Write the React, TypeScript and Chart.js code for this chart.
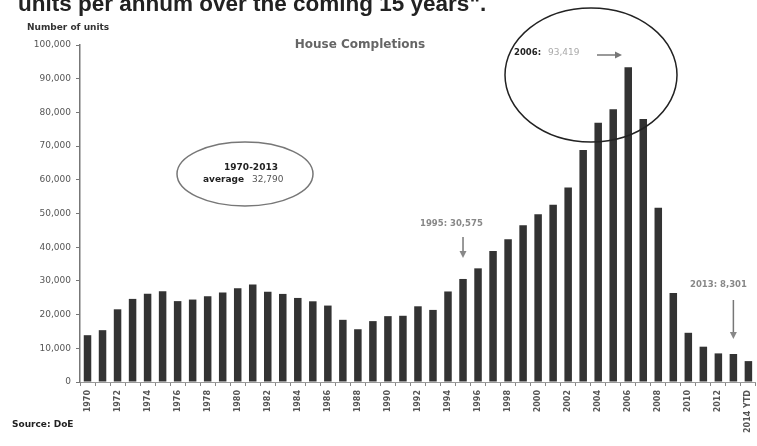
import React, { useEffect, useRef } from "react";
import { Chart, registerables } from "chart.js";

Chart.register(...registerables);

// House completions per year (DoE)
const years: string[] = [
  "1970", "1971", "1972", "1973", "1974", "1975", "1976", "1977", "1978", "1979",
  "1980", "1981", "1982", "1983", "1984", "1985", "1986", "1987", "1988", "1989",
  "1990", "1991", "1992", "1993", "1994", "1995", "1996", "1997", "1998", "1999",
  "2000", "2001", "2002", "2003", "2004", "2005", "2006", "2007", "2008", "2009",
  "2010", "2011", "2012", "2013", "2014 YTD",
];

const completions: number[] = [
  13887, 15380, 21570, 24660, 26160, 26892, 24000, 24464, 25444, 26546,
  27785, 28917, 26798, 26138, 24944, 23948, 22680, 18450, 15654, 18068,
  19539, 19652, 22464, 21391, 26863, 30575, 33725, 38842, 42349, 46512,
  49812, 52602, 57695, 68819, 76954, 80957, 93419, 78027, 51724, 26420,
  14602, 10480, 8488, 8301, 6200,
];

const yTicks: number[] = [0, 10000, 20000, 30000, 40000, 50000, 60000, 70000, 80000, 90000, 100000];

const HEAD_FONT = '"Liberation Sans", Arial, sans-serif';
const FONT = '"DejaVu Sans", sans-serif';

const fmt = (v: number) => v.toLocaleString("en-US");

function arrowDown(ctx: CanvasRenderingContext2D, x: number, y1: number, y2: number) {
  ctx.beginPath();
  ctx.moveTo(x, y1);
  ctx.lineTo(x, y2 - 5);
  ctx.stroke();
  ctx.beginPath();
  ctx.moveTo(x - 3.5, y2 - 7);
  ctx.lineTo(x + 3.5, y2 - 7);
  ctx.lineTo(x, y2);
  ctx.closePath();
  ctx.fill();
}

function arrowRight(ctx: CanvasRenderingContext2D, x1: number, x2: number, y: number) {
  ctx.beginPath();
  ctx.moveTo(x1, y);
  ctx.lineTo(x2 - 5, y);
  ctx.stroke();
  ctx.beginPath();
  ctx.moveTo(x2 - 7, y - 3.5);
  ctx.lineTo(x2 - 7, y + 3.5);
  ctx.lineTo(x2, y);
  ctx.closePath();
  ctx.fill();
}

const annotations = {
  id: "houseAnnotations",
  afterDraw(chart: any) {
    const ctx: CanvasRenderingContext2D = chart.ctx;
    const xs = chart.scales.x;
    ctx.save();

    // heading line above the chart
    ctx.fillStyle = "#222";
    ctx.font = `bold 22.5px ${HEAD_FONT}`;
    ctx.textBaseline = "alphabetic";
    ctx.textAlign = "left";
    ctx.fillText('units per annum over the coming 15 years".', 18, 11);

    // axis caption
    ctx.fillStyle = "#333";
    ctx.font = `bold 9px ${FONT}`;
    ctx.textBaseline = "middle";
    ctx.fillText("Number of units", 27, 28);

    // chart title
    ctx.fillStyle = "#666";
    ctx.font = `bold 12px ${FONT}`;
    ctx.textAlign = "center";
    ctx.fillText("House Completions", 360, 45);

    // average callout
    ctx.strokeStyle = "#777";
    ctx.lineWidth = 1.5;
    ctx.beginPath();
    ctx.ellipse(245, 174, 68, 32, 0, 0, Math.PI * 2);
    ctx.stroke();
    ctx.fillStyle = "#222";
    ctx.font = `bold 9px ${FONT}`;
    ctx.fillText("1970-2013", 251, 168);
    ctx.textAlign = "left";
    ctx.fillText("average", 203, 180);
    ctx.fillStyle = "#555";
    ctx.font = `9px ${FONT}`;
    ctx.fillText("32,790", 252, 180);

    // peak callout
    ctx.strokeStyle = "#222";
    ctx.lineWidth = 1.5;
    ctx.beginPath();
    ctx.ellipse(591, 75, 86, 67, 0, 0, Math.PI * 2);
    ctx.stroke();
    ctx.fillStyle = "#222";
    ctx.font = `bold 8.5px ${FONT}`;
    ctx.fillText("2006:", 514, 53);
    ctx.fillStyle = "#aaa";
    ctx.font = `9px ${FONT}`;
    ctx.fillText(fmt(completions[36]), 548, 53);
    ctx.strokeStyle = "#777";
    ctx.fillStyle = "#777";
    ctx.lineWidth = 1.5;
    arrowRight(ctx, 597, 622, 55);

    // 1995 callout
    const x95 = xs.getPixelForValue(25);
    ctx.fillStyle = "#888";
    ctx.font = `bold 8.5px ${FONT}`;
    ctx.fillText(`1995: ${fmt(completions[25])}`, 420, 224);
    arrowDown(ctx, x95, 237, 258);

    // 2013 callout
    const x13 = xs.getPixelForValue(43);
    ctx.fillText(`2013: ${fmt(completions[43])}`, 690, 285);
    arrowDown(ctx, x13, 300, 339);

    // source
    ctx.fillStyle = "#222";
    ctx.font = `bold 9px ${FONT}`;
    ctx.fillText("Source: DoE", 12, 425);

    ctx.restore();
  },
};

export default function App() {
  const ref = useRef<HTMLCanvasElement | null>(null);

  useEffect(() => {
    if (!ref.current) return;
    const chart = new Chart(ref.current, {
      type: "bar",
      data: {
        labels: years,
        datasets: [
          {
            data: completions,
            backgroundColor: "#333333",
            borderWidth: 0,
            categoryPercentage: 1,
            barPercentage: 0.5,
          },
        ],
      },
      options: {
        responsive: false,
        animation: false,
        layout: { padding: { top: 45, left: 0, right: 0, bottom: 0 } },
        plugins: {
          legend: { display: false },
          tooltip: { enabled: false },
        },
        scales: {
          x: {
            grid: {
              display: true,
              drawOnChartArea: false,
              drawTicks: true,
              tickLength: 4,
              color: "#888",
              offset: true,
            },
            border: { display: true, color: "#999", width: 1 },
            ticks: {
              autoSkip: false,
              maxRotation: 90,
              minRotation: 90,
              padding: 4,
              color: "#555",
              font: { family: FONT, size: 8, weight: "bold" },
              callback: (_v: any, i: number) => (i % 2 === 0 ? years[i] : ""),
            },
            afterFit: (s: any) => {
              s.height = 64;
            },
          },
          y: {
            min: 0,
            max: 100000,
            afterBuildTicks: (s: any) => {
              s.ticks = yTicks.map((v) => ({ value: v }));
            },
            grid: {
              display: true,
              drawOnChartArea: false,
              drawTicks: true,
              tickLength: 4,
              color: "#777",
            },
            border: { display: true, color: "#777", width: 1.5 },
            ticks: {
              padding: 5,
              color: "#555",
              font: { family: FONT, size: 9 },
              callback: (v: any) => fmt(Number(v)),
            },
            afterFit: (s: any) => {
              s.width = 80;
            },
          },
        },
      },
      plugins: [annotations],
    });
    return () => chart.destroy();
  }, []);

  return (
    <div
      style={{
        position: "absolute",
        left: 0,
        top: 0,
        width: 757,
        height: 446,
        overflow: "hidden",
        background: "#fff",
      }}
    >
      <canvas ref={ref} width={762} height={446} style={{ display: "block" }} />
    </div>
  );
}
